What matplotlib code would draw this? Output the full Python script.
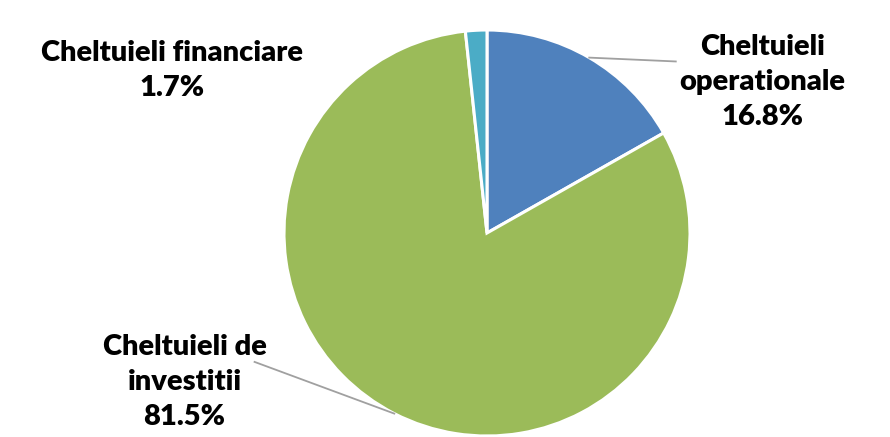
import numpy as np
import matplotlib.pyplot as plt

categories = ["Cheltuieli\noperationale", "Cheltuieli de\ninvestitii", "Cheltuieli financiare"]
values = [16.8, 81.5, 1.7]
colors = ["#4F81BD", "#9BBB59", "#4BACC6"]

# label centre and leader-line elbow, in pie radius units
label_pos = [(1.355, 0.745), (-1.49, -0.735), (-1.55, 0.80)]
leader_end = [(0.93, 0.845), (-1.145, -0.635), None]

W, H = 890, 437
fig = plt.figure(figsize=(W / 100, H / 100), dpi=100)
cx, cy, r = 487, 233, 203
ax = fig.add_axes([(cx - r) / W, (H - cy - r) / H, 2 * r / W, 2 * r / H])

wedges, _ = ax.pie(values, colors=colors, startangle=90, counterclock=False,
                   radius=1, wedgeprops=dict(edgecolor="white", linewidth=2.2))
ax.set_xlim(-1, 1)
ax.set_ylim(-1, 1)
ax.set_aspect("equal")
ax.axis("off")

for w, cat, val, pos, end in zip(wedges, categories, values, label_pos, leader_end):
    ang = np.deg2rad((w.theta1 + w.theta2) / 2)
    if end is not None:
        x0, y0 = np.cos(ang), np.sin(ang)
        ax.plot([x0, end[0]], [y0, end[1]], color="#A0A0A0", lw=1.3, clip_on=False)
    ax.text(pos[0], pos[1], f"{cat}\n{val:.1f}%", ha="center", va="center",
            fontsize=21, fontweight="heavy", family="Lato", linespacing=1.42,
            clip_on=False)

fig.savefig("out.png", dpi=100)
